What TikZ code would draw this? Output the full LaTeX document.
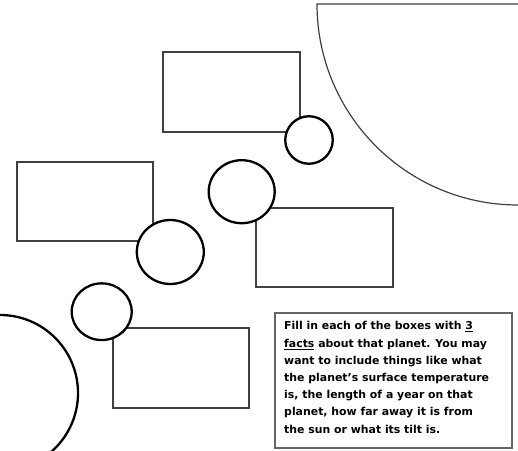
\documentclass[tikz,border=0pt]{standalone}
\usepackage{fontspec}
\setmainfont{DejaVu Sans}
\tikzset{
  factbox/.style={draw=black!75, line width=1.3pt, fill=white, rectangle,
    inner sep=0pt, minimum width=137pt, minimum height=80pt},
  planet/.style={draw=black, line width=2.3pt, fill=white, ellipse,
    inner sep=0pt},
  notebox/.style={draw=black!60, line width=1.2pt, rectangle, inner sep=0pt,
    minimum width=237pt, minimum height=135pt},
  bigbody/.style={draw=black!75, line width=1.2pt}
}
\usetikzlibrary{shapes.geometric}
\begin{document}
\begin{tikzpicture}[x=1pt,y=1pt]
  \useasboundingbox (0,0) rectangle (518,450);
  \clip (0,0) rectangle (518,450);
  % the sun, top right
  \draw[bigbody] (518,446) -- (317,446) arc[start angle=180, end angle=270, radius=201];
  % large planet, bottom left
  \draw[line width=2.3pt] (0,57) circle[radius=78];

  % fact boxes
  \node[factbox] (boxtop) at (231.5,358) {};
  \node[factbox, minimum width=136pt, minimum height=79pt] (boxleft) at (85,248.5) {};
  \node[factbox, minimum height=79pt] (boxmid) at (324.5,202.5) {};
  \node[factbox, minimum width=136pt] (boxlow) at (181,82) {};

  % planets
  \node[planet, minimum width=47.5pt, minimum height=47.5pt] (pa) at (309,310) {};
  \node[planet, minimum width=66pt, minimum height=63pt] (pb) at (241.7,258.3) {};
  \node[planet, minimum width=67pt, minimum height=64pt] (pc) at (170.3,198) {};
  \node[planet, minimum width=60pt, minimum height=56.7pt] (pd) at (101.7,138.3) {};

  % instructions
  \node[notebox] (note) at (393.5,69.5) {};
  \node[anchor=north west, inner sep=0pt, align=left,
        font=\fontsize{10.9}{17.2}\selectfont\bfseries] (notetext) at (284,128.5)
  {Fill in each of the boxes with \underline{3}\\
   \underline{facts} about that planet. You may\\
   want to include things like what\\
   the planet’s surface temperature\\
   is, the length of a year on that\\
   planet, how far away it is from\\
   the sun or what its tilt is.};
\end{tikzpicture}
\end{document}
